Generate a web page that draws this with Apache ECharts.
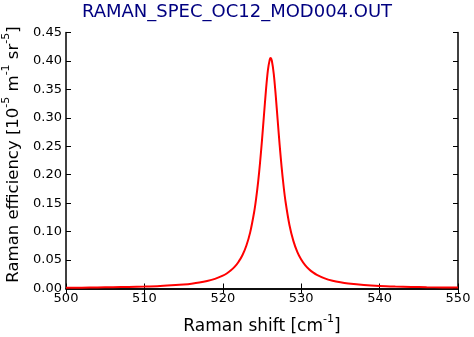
<!DOCTYPE html>
<html>
<head>
<meta charset="utf-8">
<script src="https://cdn.jsdelivr.net/npm/echarts@6/dist/echarts.min.js"></script>
<style>
html,body{margin:0;padding:0;background:#fff;}
#c{width:474px;height:337px;}
</style>
</head>
<body>
<div id="c"></div>
<script>
var titleText = 'RAMAN_SPEC_OC12_MOD004.OUT';
var shift = [500, 502, 504, 506, 508, 510, 512, 514, 515, 516, 517, 518, 519, 520, 520.5, 521, 521.5, 522, 522.5, 523, 523.5, 524, 524.25, 524.5, 524.75, 525, 525.25, 525.5, 525.75, 526, 526.1, 526.25, 526.5, 526.75, 527, 527.25, 527.5, 527.75, 528, 528.5, 529, 529.5, 530, 530.5, 531, 531.5, 532, 533, 534, 535, 536, 538, 540, 542, 544, 546, 548, 550];
var efficiency = [0.0013, 0.0015, 0.0018, 0.0022, 0.0027, 0.0034, 0.0044, 0.0060, 0.0071, 0.0085, 0.0104, 0.0131, 0.0169, 0.0225, 0.0264, 0.0315, 0.0380, 0.0467, 0.0585, 0.0752, 0.0991, 0.1344, 0.1580, 0.1867, 0.2210, 0.2609, 0.3045, 0.3478, 0.3836, 0.4032, 0.4050, 0.4009, 0.3774, 0.3395, 0.2957, 0.2525, 0.2137, 0.1806, 0.1529, 0.1116, 0.0837, 0.0645, 0.0510, 0.0412, 0.0339, 0.0283, 0.0240, 0.0178, 0.0137, 0.0109, 0.0089, 0.0062, 0.0045, 0.0035, 0.0028, 0.0022, 0.0018, 0.0016];
var xTicks = [500, 510, 520, 530, 540, 550];
var yTicks = ['0.00','0.05','0.10','0.15','0.20','0.25','0.30','0.35','0.40','0.45'];

var pts = shift.map(function(x, i){ return [x, efficiency[i]]; });
var font = 'DejaVu Sans';
var supStyle = {fontFamily: font, fontSize: 11, lineHeight: 11, verticalAlign: 'top', color: '#000'};
var mainStyle = {fontFamily: font, fontSize: 17, lineHeight: 22, color: '#000', verticalAlign: 'bottom'};
var mainStyleY = {fontFamily: font, fontSize: 16.5, lineHeight: 22, color: '#000', verticalAlign: 'bottom'};
var chart = echarts.init(document.getElementById('c'), null, {renderer: 'canvas'});
var axLine = {show: true, lineStyle: {color: '#000', width: 1.5}};
var tickIn = {show: true, inside: true, length: 5, lineStyle: {color: '#000', width: 1}};
chart.setOption({
  animation: false,
  backgroundColor: '#fff',
  title: {
    text: titleText, left: 'center', top: -2,
    textStyle: {fontFamily: font, fontSize: 18, fontWeight: 'normal', color: '#000080'}
  },
  grid: {left: 66, right: 16, top: 32.5, bottom: 48.5, containLabel: false, outerBoundsMode: 'none'},
  xAxis: [{
    type: 'value', min: xTicks[0], max: xTicks[xTicks.length-1], interval: 10,
    axisLine: axLine, axisTick: tickIn, splitLine: {show: false},
    axisLabel: {fontFamily: font, fontSize: 13, color: '#000', margin: 4},
    name: '{a|Raman shift [cm}{sup|-1}{a|]}', nameLocation: 'middle', nameGap: 25,
    nameTextStyle: {rich: {a: mainStyle, sup: supStyle}}
  }, {
    type: 'value', position: 'top', min: xTicks[0], max: xTicks[xTicks.length-1], interval: 10,
    axisLine: axLine, axisTick: tickIn, axisLabel: {show: false}, splitLine: {show: false}
  }],
  yAxis: [{
    type: 'value', min: 0, max: 0.45, interval: 0.05,
    axisLine: axLine, axisTick: tickIn, splitLine: {show: false},
    axisLabel: {fontFamily: font, fontSize: 13, color: '#000', margin: 4,
      formatter: function(v){ var i = Math.round(v/0.05); return yTicks[i]; }},
    name: '{a|Raman efficiency [10}{sup|-5}{a| m}{sup|-1}{a| sr}{sup|-5}{a|]}', nameLocation: 'middle', nameGap: 40, nameRotate: 90,
    nameTextStyle: {rich: {a: mainStyleY, sup: supStyle}, padding: [0, 0, 0, 12]}
  }, {
    type: 'value', position: 'right', min: 0, max: 0.45, interval: 0.05,
    axisLine: axLine, axisTick: tickIn, axisLabel: {show: false}, splitLine: {show: false}
  }],
  series: [{
    type: 'line', data: pts, showSymbol: false, smooth: 0.3,
    lineStyle: {color: '#ff0000', width: 2}, xAxisIndex: 0, yAxisIndex: 0
  }]
});
</script>
</body>
</html>
